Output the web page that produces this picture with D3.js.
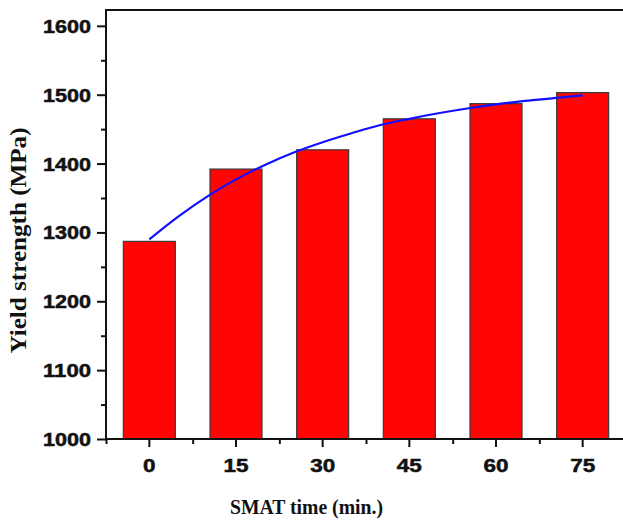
<!DOCTYPE html>
<html>
<head>
<meta charset="utf-8">
<script src="https://cdn.jsdelivr.net/npm/d3@7"></script>
<style>
  html, body { margin: 0; padding: 0; background: #fff; }
  svg { display: block; }
</style>
</head>
<body>
<svg id="chart" width="623" height="520"></svg>
<script>
// SMAT treatment time (min) and measured yield strength (MPa)
const categories = ["0", "15", "30", "45", "60", "75"];
const yieldStrength = [1287, 1392, 1420, 1465, 1487, 1503];

// Fitted trend line, sampled along the time axis
const fitTimes = [0, 5, 10, 15, 20, 25, 30, 35, 40, 45, 50, 55, 60, 65, 70, 75];
const fitValues = [1290, 1323, 1352, 1377, 1398, 1416, 1431, 1444, 1456, 1465, 1473, 1480, 1486, 1491, 1495, 1499];

const yTicks = [1000, 1100, 1200, 1300, 1400, 1500, 1600];
const yMinorTicks = [1050, 1150, 1250, 1350, 1450, 1550];

const svg = d3.select("#chart");
const plotLeft = 106, plotRight = 626, plotTop = 10, plotBottom = 439;

const x = d3.scaleBand().domain(categories).range([plotLeft, plotRight])
  .paddingInner(0.4).paddingOuter(0.2);
const bw = x.bandwidth();
const xt = d3.scaleLinear().domain([0, 75])
  .range([x("0") + bw / 2, x("75") + bw / 2]);
const y = d3.scaleLinear().domain([1000, 1623]).range([plotBottom, plotTop]);

// stretch a label to a given width per character
function fitWidth(sel, perChar) {
  sel.each(function () {
    const n = this.textContent.length;
    d3.select(this).attr("textLength", n * perChar).attr("lengthAdjust", "spacingAndGlyphs");
  });
}

// bars
svg.append("g").selectAll("rect")
  .data(categories.map((c, i) => ({ c, v: yieldStrength[i] })))
  .join("rect")
  .attr("x", d => x(d.c))
  .attr("y", d => y(d.v))
  .attr("width", bw)
  .attr("height", d => y(1000) - y(d.v))
  .attr("fill", "#ff0505")
  .attr("stroke", "#3a3a3a")
  .attr("stroke-width", 1.2);

// trend curve
const line = d3.line()
  .x((d, i) => xt(fitTimes[i]))
  .y(d => y(d))
  .curve(d3.curveMonotoneX);
svg.append("path")
  .datum(fitValues)
  .attr("d", line)
  .attr("fill", "none")
  .attr("stroke", "#1010ff")
  .attr("stroke-width", 2.2);

const tickFont = sel => sel
  .attr("font-family", "'Liberation Sans', Arial, sans-serif")
  .attr("font-weight", "bold")
  .attr("font-size", 18)
  .attr("fill", "#111")
  .attr("stroke", "#111")
  .attr("stroke-width", 0.5);

// y axis
const yAxis = svg.append("g").attr("transform", `translate(${plotLeft},0)`)
  .call(d3.axisLeft(y).tickValues(yTicks).tickSize(9).tickPadding(6).tickFormat(d3.format("d")));
yAxis.select(".domain").remove();
yAxis.selectAll(".tick line").attr("stroke", "#111").attr("stroke-width", 2);
yAxis.selectAll(".tick text").call(tickFont).attr("dy", "0.36em").call(fitWidth, 12);
svg.append("g").attr("transform", `translate(${plotLeft},0)`)
  .call(d3.axisLeft(y).tickValues(yMinorTicks).tickSize(5).tickFormat(""))
  .call(g => g.select(".domain").remove())
  .selectAll(".tick line").attr("stroke", "#111").attr("stroke-width", 2);

// x axis
const xAxis = svg.append("g").attr("transform", `translate(0,${plotBottom})`)
  .call(d3.axisBottom(x).tickSize(8).tickPadding(12));
xAxis.select(".domain").remove();
xAxis.selectAll(".tick line").attr("stroke", "#111").attr("stroke-width", 2);
xAxis.selectAll(".tick text").call(tickFont).call(fitWidth, 12.5);

// minor x ticks sit on the category boundaries
const xMinor = d3.scaleLinear().domain([-0.5, categories.length - 0.5]).range([plotLeft, plotRight]);
svg.append("g").attr("transform", `translate(0,${plotBottom})`)
  .call(d3.axisBottom(xMinor).tickValues(d3.range(-0.5, categories.length, 1)).tickSize(5).tickFormat(""))
  .call(g => g.select(".domain").remove())
  .selectAll(".tick line").attr("stroke", "#111").attr("stroke-width", 2);

// frame
svg.append("rect")
  .attr("x", plotLeft).attr("y", plotTop)
  .attr("width", plotRight - plotLeft).attr("height", plotBottom - plotTop)
  .attr("fill", "none").attr("stroke", "#111").attr("stroke-width", 2);

// axis titles
svg.append("text")
  .attr("x", 306.5).attr("y", 514)
  .attr("text-anchor", "middle")
  .attr("font-family", "'Liberation Serif', 'Times New Roman', serif")
  .attr("font-weight", "bold")
  .attr("font-size", 20)
  .attr("fill", "#111")
  .attr("textLength", 153)
  .attr("lengthAdjust", "spacingAndGlyphs")
  .text("SMAT time (min.)");

svg.append("text")
  .attr("transform", "translate(26,240.5) rotate(-90)")
  .attr("text-anchor", "middle")
  .attr("font-family", "'Liberation Serif', 'Times New Roman', serif")
  .attr("font-weight", "bold")
  .attr("font-size", 24)
  .attr("fill", "#111")
  .attr("textLength", 226)
  .attr("lengthAdjust", "spacingAndGlyphs")
  .text("Yield strength (MPa)");
</script>
</body>
</html>
